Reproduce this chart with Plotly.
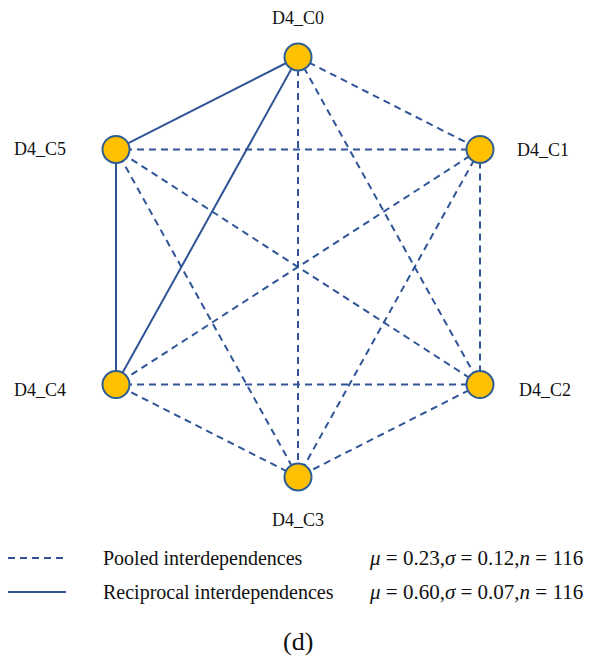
import plotly.graph_objects as go

# ---- data ----
node_names = ["D4_C0", "D4_C1", "D4_C2", "D4_C3", "D4_C4", "D4_C5"]
node_x = [0, 1, 1, 0, -1, -1]
node_y = [1, 0.56, -0.56, -1, -0.56, 0.56]

reciprocal_edges = [(0, 5), (0, 4), (5, 4)]
pooled_edges = [(0, 1), (0, 2), (0, 3), (1, 2), (1, 3), (1, 4), (1, 5),
                (2, 3), (2, 4), (2, 5), (3, 4), (3, 5)]

legend_labels = ["Pooled interdependences", "Reciprocal interdependences"]
legend_stats = ["<i>μ</i> = 0.23,<i>σ</i> = 0.12,<i>n</i> = 116",
                "<i>μ</i> = 0.60,<i>σ</i> = 0.07,<i>n</i> = 116"]
panel_label = "(d)"

LINE = "#2F5597"
NODE = "#FFC000"
FONT = "Liberation Serif"
OFF = 8                      # page body margin
W, H = 597 - OFF, 656 - OFF  # figure size


def edge_xy(edges):
    xs, ys = [], []
    for a, b in edges:
        xs += [node_x[a], node_x[b], None]
        ys += [node_y[a], node_y[b], None]
    return xs, ys


fig = go.Figure()
px_, py_ = edge_xy(pooled_edges)
fig.add_trace(go.Scatter(x=px_, y=py_, mode="lines",
                         line=dict(color=LINE, width=2, dash="7px,5px"),
                         hoverinfo="skip"))
rx_, ry_ = edge_xy(reciprocal_edges)
fig.add_trace(go.Scatter(x=rx_, y=ry_, mode="lines",
                         line=dict(color=LINE, width=2),
                         hoverinfo="skip"))
fig.add_trace(go.Scatter(x=node_x, y=node_y, mode="markers",
                         marker=dict(size=27, color=NODE,
                                     line=dict(color="#2E5E93", width=2)),
                         text=node_names, hoverinfo="text"))

# node labels
label_pos = [
    dict(xanchor="center", yanchor="middle", xshift=0, yshift=39),
    dict(xanchor="left", yanchor="middle", xshift=35, yshift=-1),
    dict(xanchor="left", yanchor="middle", xshift=37, yshift=-5),
    dict(xanchor="center", yanchor="middle", xshift=0, yshift=-43),
    dict(xanchor="right", yanchor="middle", xshift=-48, yshift=-5),
    dict(xanchor="right", yanchor="middle", xshift=-48, yshift=0),
]
for name, x, y, p in zip(node_names, node_x, node_y, label_pos):
    fig.add_annotation(x=x, y=y, xref="x", yref="y", text=name, showarrow=False,
                       font=dict(family=FONT, size=18, color="#111111"), **p)


def pxx(v):
    return (v - OFF) / W


def pxy(v):
    return 1 - (v - OFF) / H


# legend
legend_rows_y = [558, 592]
dashes = ["7px,5px", "solid"]
for lab, stat, yy, d in zip(legend_labels, legend_stats, legend_rows_y, dashes):
    fig.add_shape(type="line", xref="paper", yref="paper",
                  x0=pxx(8), x1=pxx(66), y0=pxy(yy), y1=pxy(yy),
                  line=dict(color=LINE, width=2, dash=d))
    fig.add_annotation(x=pxx(101), y=pxy(yy), xref="paper", yref="paper",
                       text=lab, showarrow=False, xanchor="left", yanchor="middle",
                       font=dict(family=FONT, size=20, color="#111111"))
    fig.add_annotation(x=pxx(585), y=pxy(yy), xref="paper", yref="paper",
                       text=stat, showarrow=False, xanchor="right", yanchor="middle",
                       font=dict(family=FONT, size=21, color="#111111"))

fig.add_annotation(x=pxx(298), y=pxy(641), xref="paper", yref="paper",
                   text=panel_label, showarrow=False, xanchor="center", yanchor="middle",
                   font=dict(family=FONT, size=26, color="#111111"))

# node coordinate system in page pixels: centre and scale
cx, cy, sx, sy = 298 - OFF, 267 - OFF, 182, 210
fig.update_layout(
    width=W, height=H, margin=dict(l=0, r=0, t=0, b=0),
    paper_bgcolor="white", plot_bgcolor="white", showlegend=False,
    xaxis=dict(range=[-cx / sx, (W - cx) / sx], visible=False, fixedrange=True),
    yaxis=dict(range=[(cy - H) / sy, cy / sy], visible=False, fixedrange=True),
)
fig.write_html("out.html")
